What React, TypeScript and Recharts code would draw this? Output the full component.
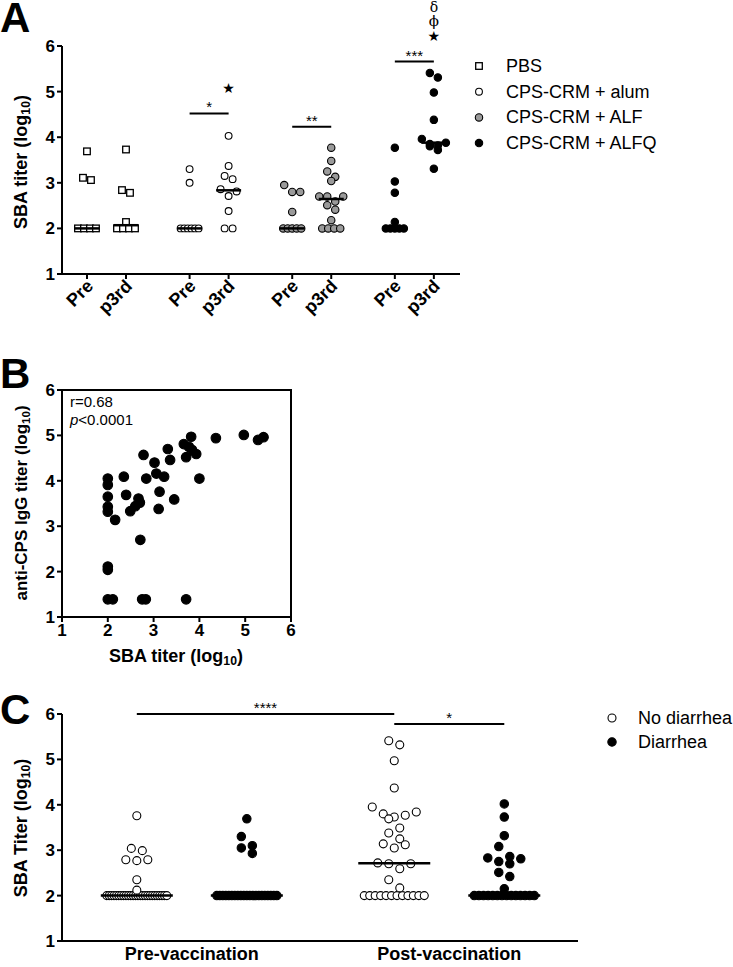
import React from "react";
import {
  ScatterChart,
  Scatter,
  XAxis,
  YAxis,
  ReferenceLine,
  ReferenceDot,
  ReferenceArea,
} from "recharts";

const FONT = '"Liberation Sans", Arial, Helvetica, sans-serif';

// ---- Panel A: SBA titer per group, Pre vs post 3rd dose ----
const groupNamesA = ["PBS", "CPS-CRM + alum", "CPS-CRM + ALF", "CPS-CRM + ALFQ"];
const timeLabelsA = ["Pre", "p3rd"];
const pbsPre = [3.69, 3.11, 3.06, 2, 2, 2, 2];
const pbsP3 = [3.73, 2.84, 2.78, 2.14, 2, 2, 2, 2];
const alumPre = [3.3, 3.0, 2, 2, 2, 2, 2, 2];
const alumP3 = [4.03, 3.37, 3.15, 3.08, 2.86, 2.81, 2.71, 2.38, 2, 2];
const alfPre = [2.95, 2.8, 2.8, 2.36, 2, 2, 2, 2, 2];
const alfP3 = [3.77, 3.48, 3.25, 3.13, 3.04, 2.7, 2.7, 2.7, 2.59, 2.51, 2.41, 2.18, 2, 2, 2, 2];
const alfqPre = [3.77, 3.03, 2.78, 2.14, 2, 2, 2, 2, 2];
const alfqP3 = [5.41, 5.31, 4.98, 4.38, 3.96, 3.88, 3.85, 3.82, 3.8, 3.72, 3.31];
const sigLevelsA = [null, 4.52, 4.23, 5.66];
const sigLabelsA = ["", "*", "**", "***"];

// ---- Panel B: SBA vs anti-CPS IgG ----
const sbaB = [2.0, 2.0, 2.0, 2.0, 2.0, 2.0, 2.0, 2.0, 2.11, 2.16, 2.35, 2.4, 2.49, 2.6, 2.67, 2.7, 2.71, 2.78, 2.84, 2.75, 2.83, 3.02, 3.06, 3.13, 3.11, 3.23, 3.31, 3.36, 3.45, 3.66, 3.71, 3.71, 3.77, 3.82, 3.84, 3.93, 4.0, 4.36, 4.97, 5.28, 5.4];
const iggB = [4.05, 3.91, 3.65, 3.43, 3.32, 2.11, 2.04, 1.39, 1.39, 3.14, 4.09, 3.69, 3.33, 3.44, 3.61, 3.52, 2.7, 4.57, 4.05, 1.39, 1.39, 4.4, 4.16, 3.76, 3.38, 4.09, 4.7, 4.46, 3.59, 4.81, 4.52, 1.39, 4.75, 4.97, 4.68, 4.59, 4.05, 4.94, 5.01, 4.9, 4.96];

// ---- Panel C: SBA titer by diarrhea outcome ----
const phaseLabelsC = ["Pre-vaccination", "Post-vaccination"];
const outcomeLabelsC = ["No diarrhea", "Diarrhea"];
const preNoDiarrhea = [3.76, 3.04, 2.99, 2.79, 2.79, 2.77, 2.35, 2.12, 2, 2, 2, 2, 2, 2, 2, 2, 2, 2, 2, 2, 2, 2, 2, 2, 2, 2, 2, 2, 2, 2, 2, 2, 2, 2];
const preDiarrhea = [3.69, 3.3, 3.1, 3.05, 2.93, 2, 2, 2, 2, 2, 2, 2, 2, 2, 2, 2, 2, 2, 2, 2, 2, 2, 2, 2, 2, 2];
const postNoDiarrhea = [5.41, 5.32, 4.97, 4.37, 3.95, 3.84, 3.8, 3.77, 3.73, 3.69, 3.49, 3.38, 3.25, 3.14, 3.12, 3.05, 2.72, 2.7, 2.7, 2.59, 2.35, 2.17, 2, 2, 2, 2, 2, 2, 2, 2, 2, 2, 2, 2];
const postDiarrhea = [4.02, 3.73, 3.32, 3.08, 2.86, 2.83, 2.81, 2.75, 2.7, 2.51, 2.42, 2.15, 2, 2, 2, 2, 2, 2, 2, 2, 2, 2, 2, 2, 2, 2];

const median = (v: number[]) => {
  const s = [...v].sort((a, b) => a - b);
  const m = Math.floor(s.length / 2);
  return s.length % 2 ? s[m] : (s[m - 1] + s[m]) / 2;
};

type SwarmOpts = { pxX: number; pxY: number; binPx: number; gapPx: number; rowPx: number };

// GraphPad-like scatter: tied floor values in a compressed row, others binned side by side
function swarm(values: number[], center: number, o: SwarmOpts) {
  const floor = Math.min(...values);
  const floorVals = values.filter((v) => v === floor);
  let rest = values.filter((v) => v !== floor);
  const out: { x: number; y: number }[] = [];
  if (floorVals.length >= 2) {
    const n = floorVals.length;
    const step = Math.min(o.gapPx, o.rowPx / (n - 1));
    floorVals.forEach((v, i) => out.push({ x: center + ((i - (n - 1) / 2) * step) / o.pxX, y: v }));
  } else {
    rest = values.slice();
  }
  rest.sort((a, b) => b - a);
  const bins: number[][] = [];
  rest.forEach((v) => {
    const last = bins[bins.length - 1];
    if (last && (last[0] - v) * o.pxY < o.binPx) last.push(v);
    else bins.push([v]);
  });
  bins.forEach((bin) => {
    const n = bin.length;
    let l = 0;
    let r = n - 1;
    bin.forEach((v, i) => {
      const slot = i % 2 === 0 ? l++ : r--;
      out.push({ x: center + ((slot - (n - 1) / 2) * o.gapPx) / o.pxX, y: v });
    });
  });
  return out;
}

const openSquare = (p: any) => (
  <rect x={p.cx - 3.3} y={p.cy - 3.3} width={6.6} height={6.6} fill="#fff" stroke="#000" strokeWidth={1.3} />
);
const dot = (r: number, fill: string) => (p: any) => (
  <circle cx={p.cx} cy={p.cy} r={r} fill={fill} stroke="#000" strokeWidth={1.1} />
);
const medianBar = (w: number) => (p: any) => (
  <line x1={p.cx - w / 2} x2={p.cx + w / 2} y1={p.cy} y2={p.cy} stroke="#000" strokeWidth={2.5} />
);
const textMark = (s: string, size: number, family: string) => (p: any) => (
  <text x={p.cx} y={p.cy} textAnchor="middle" dominantBaseline="central" fontSize={size} fontFamily={family} fill="#000">
    {s}
  </text>
);

const tickStyle = { fill: "#000", fontSize: 17, fontWeight: 700, fontFamily: FONT };
const lineStyle = { stroke: "#000", strokeWidth: 2 };

// ---------- Panel A ----------
const seriesA = [
  [pbsPre, pbsP3],
  [alumPre, alumP3],
  [alfPre, alfP3],
  [alfqPre, alfqP3],
];
const markersA = [openSquare, dot(3.4, "#fff"), dot(3.7, "#9a9a9a"), dot(3.7, "#000")];
const GROUP_STEP_A = 2.63;
const posA = (g: number, t: number) => g * GROUP_STEP_A + t;
const ticksA = seriesA.flatMap((_, g) => [posA(g, 0), posA(g, 1)]);
const optsA: SwarmOpts = { pxX: 39, pxY: 45.6, binPx: 7, gapPx: 8, rowPx: 18 };

const RotTick = (props: any) => {
  const { x, y, index } = props;
  const ax = x + 3;
  const ay = y + 2;
  return (
    <text x={ax} y={ay} transform={`rotate(-45 ${ax} ${ay})`} textAnchor="end" dominantBaseline="central" {...tickStyle} fontSize={18}>
      {timeLabelsA[index % 2]}
    </text>
  );
};

function PanelA() {
  return (
    <ScatterChart width={733} height={330} margin={{ top: 46, right: 273, bottom: 0, left: 0 }}>
      <XAxis
        type="number"
        dataKey="x"
        domain={[-0.64, 9.56]}
        ticks={ticksA}
        interval={0}
        height={56}
        tick={RotTick}
        axisLine={lineStyle}
        tickLine={lineStyle}
        tickSize={5}
      />
      <YAxis
        type="number"
        dataKey="y"
        domain={[1, 6]}
        ticks={[1, 2, 3, 4, 5, 6]}
        width={62}
        tick={tickStyle}
        axisLine={lineStyle}
        tickLine={lineStyle}
        tickSize={5}
      />
      {seriesA.map((pair, g) =>
        pair.map((vals, t) => (
          <Scatter
            key={`${g}-${t}`}
            name={`${groupNamesA[g]} ${timeLabelsA[t]}`}
            data={swarm(vals, posA(g, t), optsA)}
            shape={markersA[g]}
            isAnimationActive={false}
          />
        ))
      )}
      <Scatter
        name="median"
        data={seriesA.flatMap((pair, g) => pair.map((vals, t) => ({ x: posA(g, t), y: median(vals) })))}
        shape={medianBar(25)}
        isAnimationActive={false}
      />
      {sigLevelsA.map((lvl, g) =>
        lvl == null ? null : (
          <ReferenceLine
            key={`sig${g}`}
            segment={[
              { x: posA(g, 0), y: lvl },
              { x: posA(g, 1), y: lvl },
            ]}
            stroke="#000"
            strokeWidth={2}
            label={{ value: sigLabelsA[g], position: "top", fill: "#000", fontSize: 15, fontFamily: FONT, offset: 1 }}
          />
        )
      )}
      <ReferenceDot x={posA(1, 1)} y={5.07} r={0} ifOverflow="visible" shape={textMark("★", 14, "DejaVu Sans")} />
      <ReferenceDot x={posA(3, 1)} y={6.22} r={0} ifOverflow="visible" shape={textMark("★", 14, "DejaVu Sans")} />
      <ReferenceDot x={posA(3, 1)} y={6.55} r={0} ifOverflow="visible" shape={textMark("ϕ", 15, "DejaVu Serif")} />
      <ReferenceDot x={posA(3, 1)} y={6.86} r={0} ifOverflow="visible" shape={textMark("δ", 14, "DejaVu Serif")} />
    </ScatterChart>
  );
}

// ---------- Panel B ----------
function PanelB() {
  const pts = sbaB.map((x, i) => ({ x, y: iggB[i] }));
  return (
    <ScatterChart width={733} height={340} margin={{ top: 50, right: 442, bottom: 0, left: 0 }}>
      <XAxis
        type="number"
        dataKey="x"
        domain={[1, 6]}
        ticks={[1, 2, 3, 4, 5, 6]}
        interval={0}
        height={63}
        tick={tickStyle}
        axisLine={lineStyle}
        tickLine={lineStyle}
        tickSize={5}
      />
      <YAxis
        type="number"
        dataKey="y"
        domain={[1, 6]}
        ticks={[1, 2, 3, 4, 5, 6]}
        width={62}
        tick={tickStyle}
        axisLine={lineStyle}
        tickLine={lineStyle}
        tickSize={5}
      />
      <ReferenceArea x1={1} x2={6} y1={1} y2={6} fill="none" stroke="#000" strokeWidth={2} />
      <Scatter name="subjects" data={pts} shape={dot(4.8, "#000")} isAnimationActive={false} />
    </ScatterChart>
  );
}

// ---------- Panel C ----------
const seriesC = [
  [preNoDiarrhea, preDiarrhea],
  [postNoDiarrhea, postDiarrhea],
];
const markersC = [dot(4, "#fff"), dot(4.2, "#000")];
const PHASE_STEP_C = 2.34;
const posC = (p: number, d: number) => p * PHASE_STEP_C + d;
const optsC: SwarmOpts = { pxX: 110, pxY: 45.4, binPx: 10, gapPx: 11, rowPx: 60 };

function PanelC() {
  return (
    <ScatterChart width={733} height={287} margin={{ top: 34, right: 155, bottom: 0, left: 0 }}>
      <XAxis
        type="number"
        dataKey="x"
        domain={[-0.68, 4.01]}
        ticks={[posC(0, 0.5), posC(1, 0.5)]}
        tickFormatter={(v: number) => (v < 1.5 ? phaseLabelsC[0] : phaseLabelsC[1])}
        interval={0}
        height={26}
        tick={{ ...tickStyle, fontSize: 18 }}
        axisLine={lineStyle}
        tickLine={false}
        tickSize={4}
      />
      <YAxis
        type="number"
        dataKey="y"
        domain={[1, 6]}
        ticks={[1, 2, 3, 4, 5, 6]}
        width={62}
        tick={tickStyle}
        axisLine={lineStyle}
        tickLine={lineStyle}
        tickSize={5}
      />
      {seriesC.map((pair, p) =>
        pair.map((vals, d) => (
          <Scatter
            key={`${p}-${d}`}
            name={`${phaseLabelsC[p]} ${outcomeLabelsC[d]}`}
            data={swarm(vals, posC(p, d), optsC)}
            shape={markersC[d]}
            isAnimationActive={false}
          />
        ))
      )}
      <Scatter
        name="median"
        data={seriesC.flatMap((pair, p) => pair.map((vals, d) => ({ x: posC(p, d), y: median(vals) })))}
        shape={medianBar(72)}
        isAnimationActive={false}
      />
      <ReferenceLine
        segment={[
          { x: posC(0, 0), y: 6 },
          { x: posC(1, 0), y: 6 },
        ]}
        stroke="#000"
        strokeWidth={2}
        label={{ value: "****", position: "top", fill: "#000", fontSize: 15, fontFamily: FONT, offset: 1 }}
      />
      <ReferenceLine
        segment={[
          { x: posC(1, 0), y: 5.78 },
          { x: posC(1, 1), y: 5.78 },
        ]}
        stroke="#000"
        strokeWidth={2}
        label={{ value: "*", position: "top", fill: "#000", fontSize: 15, fontFamily: FONT, offset: 1 }}
      />
    </ScatterChart>
  );
}

function AxisTitle({ x, y, text, size, rotate }: { x: number; y: number; text: string; size: number; rotate?: boolean }) {
  return (
    <text
      x={x}
      y={y}
      transform={rotate ? `rotate(-90 ${x} ${y})` : undefined}
      textAnchor="middle"
      dominantBaseline="central"
      fontFamily={FONT}
      fontWeight={700}
      fontSize={size}
      fill="#000"
    >
      {text}
      <tspan fontSize={size * 0.68} dy={size * 0.3}>
        10
      </tspan>
      <tspan dy={-size * 0.3}>)</tspan>
    </text>
  );
}

export default function App() {
  const legendA = groupNamesA.map((name, i) => ({ name, mark: markersA[i], y: 66 + i * 25.7 }));
  return (
    <div style={{ position: "absolute", left: 0, top: 0, width: 733, height: 967, background: "#fff" }}>
      <div style={{ position: "absolute", left: 0, top: 0 }}>
        <PanelA />
      </div>
      <div style={{ position: "absolute", left: 0, top: 340 }}>
        <PanelB />
      </div>
      <div style={{ position: "absolute", left: 0, top: 680 }}>
        <PanelC />
      </div>
      <svg width={733} height={967} style={{ position: "absolute", left: 0, top: 0, pointerEvents: "none" }}>
        <g fontFamily={FONT} fontWeight={700} fontSize={42} fill="#000">
          <text x={0} y={32}>A</text>
          <text x={0} y={388}>B</text>
          <text x={0} y={724}>C</text>
        </g>
        <AxisTitle x={21} y={162} text="SBA titer (log" size={18} rotate />
        <AxisTitle x={21} y={503} text="anti-CPS IgG titer (log" size={17} rotate />
        <AxisTitle x={176} y={656} text="SBA titer (log" size={18} />
        <AxisTitle x={21} y={828} text="SBA Titer (log" size={18} rotate />
        {legendA.map((l) => (
          <g key={l.name}>
            {l.mark({ cx: 479, cy: l.y })}
            <text x={506} y={l.y} dominantBaseline="central" fontFamily={FONT} fontSize={18} fill="#000">
              {l.name}
            </text>
          </g>
        ))}
        <g fontFamily={FONT} fontSize={15} fill="#000">
          <text x={70} y={407}>r=0.68</text>
          <text x={70} y={425}>
            <tspan fontStyle="italic">p</tspan>&lt;0.0001
          </text>
        </g>
        {outcomeLabelsC.map((name, i) => (
          <g key={name}>
            {markersC[i]({ cx: 612, cy: 718 + i * 24 })}
            <text x={638} y={718 + i * 24} dominantBaseline="central" fontFamily={FONT} fontSize={18} fill="#000">
              {name}
            </text>
          </g>
        ))}
      </svg>
    </div>
  );
}
